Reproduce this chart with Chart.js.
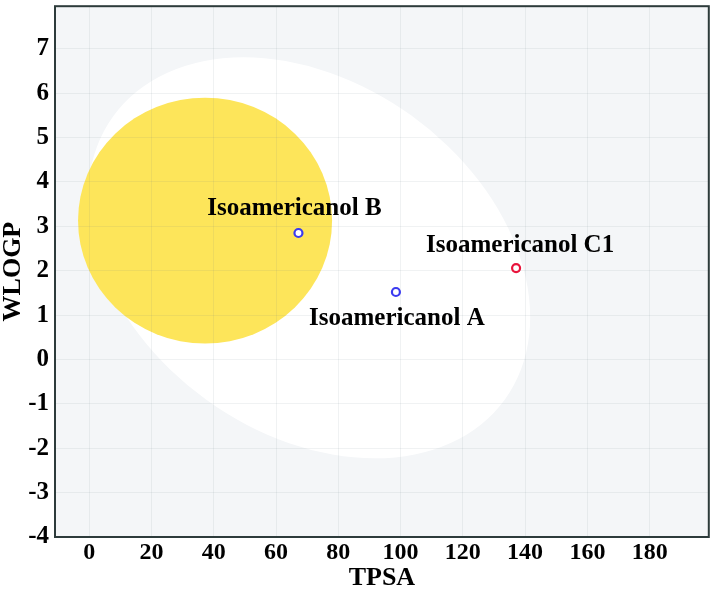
<!DOCTYPE html>
<html>
<head>
<meta charset="utf-8">
<script src="https://cdn.jsdelivr.net/npm/chart.js@4.4.0/dist/chart.umd.min.js"></script>
<style>
  html, body { margin: 0; padding: 0; background: #fff; }
</style>
</head>
<body>
<canvas id="myChart" width="715" height="591"></canvas>
<script>
// compounds plotted on the egg
const compounds = ['Isoamericanol B', 'Isoamericanol A', 'Isoamericanol C1'];
const tpsa = [67.2, 98.5, 137.1];
const wlogp = [2.85, 1.52, 2.06];
const pointColors = ['#3b3bf0', '#3b3bf0', '#e8143c'];

const xTicks = [0, 20, 40, 60, 80, 100, 120, 140, 160, 180];
const yTicks = [-4, -3, -2, -1, 0, 1, 2, 3, 4, 5, 6, 7];

// egg regions in (TPSA, WLOGP) units: centre and two conjugate semi-axes
const whiteCentre = [70.6, 2.29];
const whiteAxisA = [62.9, -3.19];
const whiteAxisB = [-33.0, -3.20];
const yolkCentre = [37.2, 3.13];
const yolkAxisA = [40.8, 0];
const yolkAxisB = [0, 2.77];

const serif = '"Liberation Serif", "Times New Roman", serif';

function eggPath(ctx, xs, ys, c, a, b) {
  let cx = xs.getPixelForValue(c[0]);
  let cy = ys.getPixelForValue(c[1]);
  let ax = xs.getPixelForValue(c[0] + a[0]) - cx;
  let ay = ys.getPixelForValue(c[1] + a[1]) - cy;
  let bx = xs.getPixelForValue(c[0] + b[0]) - cx;
  let by = ys.getPixelForValue(c[1] + b[1]) - cy;
  ctx.save();
  ctx.transform(ax, ay, bx, by, cx, cy);
  ctx.beginPath();
  ctx.arc(0, 0, 1, 0, Math.PI * 2);
  ctx.restore();
}

const eggPlugin = {
  id: 'egg',
  beforeDraw(chart) {
    let ctx = chart.ctx;
    let area = chart.chartArea;
    let xs = chart.scales.x, ys = chart.scales.y;
    ctx.save();
    ctx.fillStyle = '#f4f6f8';
    ctx.fillRect(area.left, area.top, area.right - area.left, area.bottom - area.top);
    ctx.beginPath();
    ctx.rect(area.left, area.top, area.right - area.left, area.bottom - area.top);
    ctx.clip();
    eggPath(ctx, xs, ys, whiteCentre, whiteAxisA, whiteAxisB);
    ctx.fillStyle = '#ffffff';
    ctx.fill();
    eggPath(ctx, xs, ys, yolkCentre, yolkAxisA, yolkAxisB);
    ctx.fillStyle = '#fde55a';
    ctx.fill();
    ctx.restore();
  },
  afterDraw(chart) {
    let ctx = chart.ctx;
    let area = chart.chartArea;
    ctx.save();
    // frame round the plot
    ctx.strokeStyle = '#2d3b3b';
    ctx.lineWidth = 2;
    ctx.strokeRect(area.left, area.top, area.right - area.left, area.bottom - area.top);
    // compound names
    let offsets = [[-4, -24], [1, 27], [4, -23]];
    let meta = chart.getDatasetMeta(0);
    ctx.font = 'bold 25px ' + serif;
    ctx.fillStyle = '#000';
    ctx.textAlign = 'center';
    ctx.textBaseline = 'middle';
    meta.data.forEach((pt, i) => {
      ctx.fillText(compounds[i], pt.x + offsets[i][0], pt.y + offsets[i][1]);
    });
    ctx.restore();
  }
};

let points = tpsa.map((v, i) => ({ x: v, y: wlogp[i] }));

let ctx1 = document.getElementById('myChart').getContext('2d');
let myChart = new Chart(ctx1, {
  type: 'scatter',
  data: {
    datasets: [{
      data: points,
      pointRadius: 4,
      pointBorderWidth: 2.2,
      pointBackgroundColor: '#ffffff',
      pointBorderColor: pointColors
    }]
  },
  plugins: [eggPlugin],
  options: {
    responsive: false,
    animation: false,
    layout: { padding: { top: 4, right: 4, left: 0, bottom: 0 } },
    plugins: {
      legend: { display: false },
      tooltip: { enabled: false }
    },
    scales: {
      x: {
        type: 'linear',
        min: -11,
        max: 199,
        afterBuildTicks: scale => { scale.ticks = xTicks.map(v => ({ value: v })); },
        afterFit: scale => {
          scale.height = 54;
          scale.paddingLeft = 0;
          scale.paddingRight = 0;
        },
        grid: { color: 'rgba(110,130,140,0.10)', drawTicks: false },
        border: { display: false },
        ticks: {
          padding: 1,
          color: '#000',
          font: { family: serif, size: 24, weight: 'bold' }
        },
        title: {
          display: true,
          text: 'TPSA',
          color: '#000',
          padding: { top: 0, bottom: 0 },
          font: { family: serif, size: 26, weight: 'bold', lineHeight: 1 }
        }
      },
      y: {
        type: 'linear',
        min: -4,
        max: 7.96,
        afterBuildTicks: scale => { scale.ticks = yTicks.map(v => ({ value: v })); },
        afterFit: scale => {
          scale.width = 55;
          scale.paddingTop = 0;
          scale.paddingBottom = 0;
        },
        grid: { color: 'rgba(110,130,140,0.10)', drawTicks: false },
        border: { display: false },
        ticks: {
          padding: 6,
          color: '#000',
          font: { family: serif, size: 25, weight: 'bold' }
        },
        title: {
          display: true,
          text: 'WLOGP',
          color: '#000',
          padding: { top: 0, bottom: 0 },
          font: { family: serif, size: 26, weight: 'bold', lineHeight: 1 }
        }
      }
    }
  }
});
</script>
</body>
</html>
